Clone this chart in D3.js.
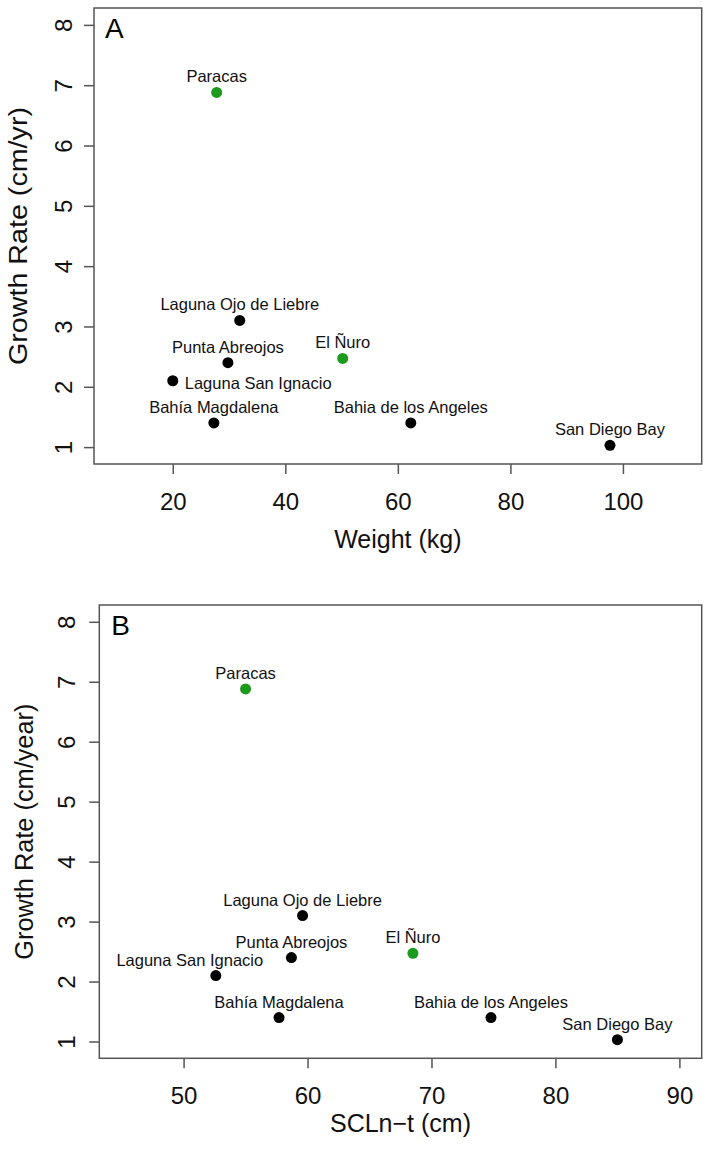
<!DOCTYPE html>
<html>
<head>
<meta charset="utf-8">
<script src="https://cdn.jsdelivr.net/npm/d3@7"></script>
<style>
  body { margin: 0; background: #fff; }
  svg { display: block; font-family: "Liberation Sans", Arial, Helvetica, sans-serif; }
</style>
</head>
<body>
<svg width="709" height="1150"></svg>
<script>
// Site names (same order in both panels)
const sites = [
  "Paracas", "Laguna Ojo de Liebre", "Punta Abreojos", "Laguna San Ignacio",
  "Bahía Magdalena", "El Ñuro", "Bahia de los Angeles", "San Diego Bay"
];
// Peruvian sites drawn in green
const isPeru = [true, false, false, false, false, true, false, false];

const growthRate = [6.88, 3.10, 2.40, 2.10, 1.40, 2.47, 1.40, 1.03];
const weightKg = [27.8, 31.9, 29.8, 20.0, 27.3, 50.2, 62.3, 97.7];
const sclCm = [55.0, 59.6, 58.7, 52.6, 57.7, 68.5, 74.8, 85.0];

const yTicks = [1, 2, 3, 4, 5, 6, 7, 8];
const xTicksA = [20, 40, 60, 80, 100];
const xTicksB = [50, 60, 70, 80, 90];

// where each label goes relative to its point
const labelPosA = ["top", "top", "top", "right", "top", "top", "top", "top"];
const labelPosB = ["top", "top", "top", "topleft", "top", "top", "top", "top"];

const svg = d3.select("svg");
const green = "#1b9a1b";
const axisCol = "#555";

// R-style limits: xlim/ylim padded by 4%
function pad(lo, hi) {
  const d = (hi - lo) * 0.04;
  return [lo - d, hi + d];
}

function panel(opts) {
  const { box, xLim, xVals, xTicks, xTitle, yTitle, letter, labelPos, tickX, titleX } = opts;
  const x = d3.scaleLinear().domain(pad(xLim[0], xLim[1])).range([box.left, box.right]);
  const y = d3.scaleLinear().domain(pad(1, 8)).range([box.bottom, box.top]);
  const g = svg.append("g");

  g.append("rect")
    .attr("x", box.left).attr("y", box.top)
    .attr("width", box.right - box.left).attr("height", box.bottom - box.top)
    .attr("fill", "none").attr("stroke", axisCol).attr("stroke-width", 1.5);

  // x axis
  const xa = g.append("g")
    .attr("transform", `translate(0,${box.bottom})`)
    .call(d3.axisBottom(x).tickValues(xTicks).tickSize(10).tickPadding(19).tickSizeOuter(0));
  xa.select(".domain").remove();
  xa.selectAll("line").attr("stroke", axisCol).attr("stroke-width", 1.5);
  xa.selectAll("text").attr("font-size", 24).attr("fill", "#111").attr("font-family", null);

  // y axis (labels rotated like R)
  const ya = g.append("g")
    .attr("transform", `translate(${box.left},0)`)
    .call(d3.axisLeft(y).tickValues(yTicks).tickSize(10).tickSizeOuter(0));
  ya.select(".domain").remove();
  ya.selectAll("line").attr("stroke", axisCol).attr("stroke-width", 1.5);
  ya.selectAll("text")
    .attr("font-size", 24).attr("fill", "#111").attr("font-family", null)
    .attr("x", null).attr("dy", null)
    .attr("text-anchor", "middle")
    .attr("transform", `translate(${tickX - box.left},0) rotate(-90)`);

  g.append("text")
    .attr("x", (box.left + box.right) / 2)
    .attr("y", opts.xTitleY)
    .attr("text-anchor", "middle")
    .attr("font-size", 25)
    .attr("fill", "#111")
    .text(xTitle);

  g.append("text")
    .attr("transform", `translate(${titleX},${(box.top + box.bottom) / 2}) rotate(-90)`)
    .attr("text-anchor", "middle")
    .attr("font-size", 26)
    .attr("textLength", opts.yTitleLen)
    .attr("lengthAdjust", "spacingAndGlyphs")
    .attr("fill", "#111")
    .text(yTitle);

  g.append("text")
    .attr("x", box.left + opts.letterDx)
    .attr("y", box.top + 30)
    .attr("font-size", 28)
    .attr("fill", "#000")
    .text(letter);

  const pts = sites.map((s, i) => ({ name: s, x: xVals[i], y: growthRate[i], peru: isPeru[i], pos: labelPos[i] }));

  g.selectAll(".pt").data(pts).enter().append("circle")
    .attr("class", "pt")
    .attr("cx", d => x(d.x))
    .attr("cy", d => y(d.y))
    .attr("r", 5.5)
    .attr("fill", d => d.peru ? green : "#000");

  g.selectAll(".lab").data(pts).enter().append("text")
    .attr("class", "lab")
    .attr("x", d => d.pos === "right" ? x(d.x) + 12 : d.pos === "topleft" ? x(d.x) - 26 : x(d.x))
    .attr("y", d => d.pos === "right" ? y(d.y) + 8 : y(d.y) - 10)
    .attr("text-anchor", d => d.pos === "right" ? "start" : "middle")
    .attr("font-size", 16.5)
    .attr("fill", "#111")
    .text(d => d.name);
}

panel({
  box: { left: 94, right: 701.7, top: 8, bottom: 464 },
  xLim: [10, 110], xVals: weightKg, xTicks: xTicksA,
  xTitle: "Weight (kg)", yTitle: "Growth Rate (cm/yr)", yTitleLen: 258,
  letter: "A", letterDx: 11, labelPos: labelPosA,
  tickX: 72, titleX: 27, xTitleY: 548
});

panel({
  box: { left: 99.3, right: 701.7, top: 605, bottom: 1058.3 },
  xLim: [45, 90], xVals: sclCm, xTicks: xTicksB,
  xTitle: "SCLn\u2212t (cm)", yTitle: "Growth Rate (cm/year)", yTitleLen: 256,
  letter: "B", letterDx: 12, labelPos: labelPosB,
  tickX: 75, titleX: 33, xTitleY: 1131.5
});
</script>
</body>
</html>
